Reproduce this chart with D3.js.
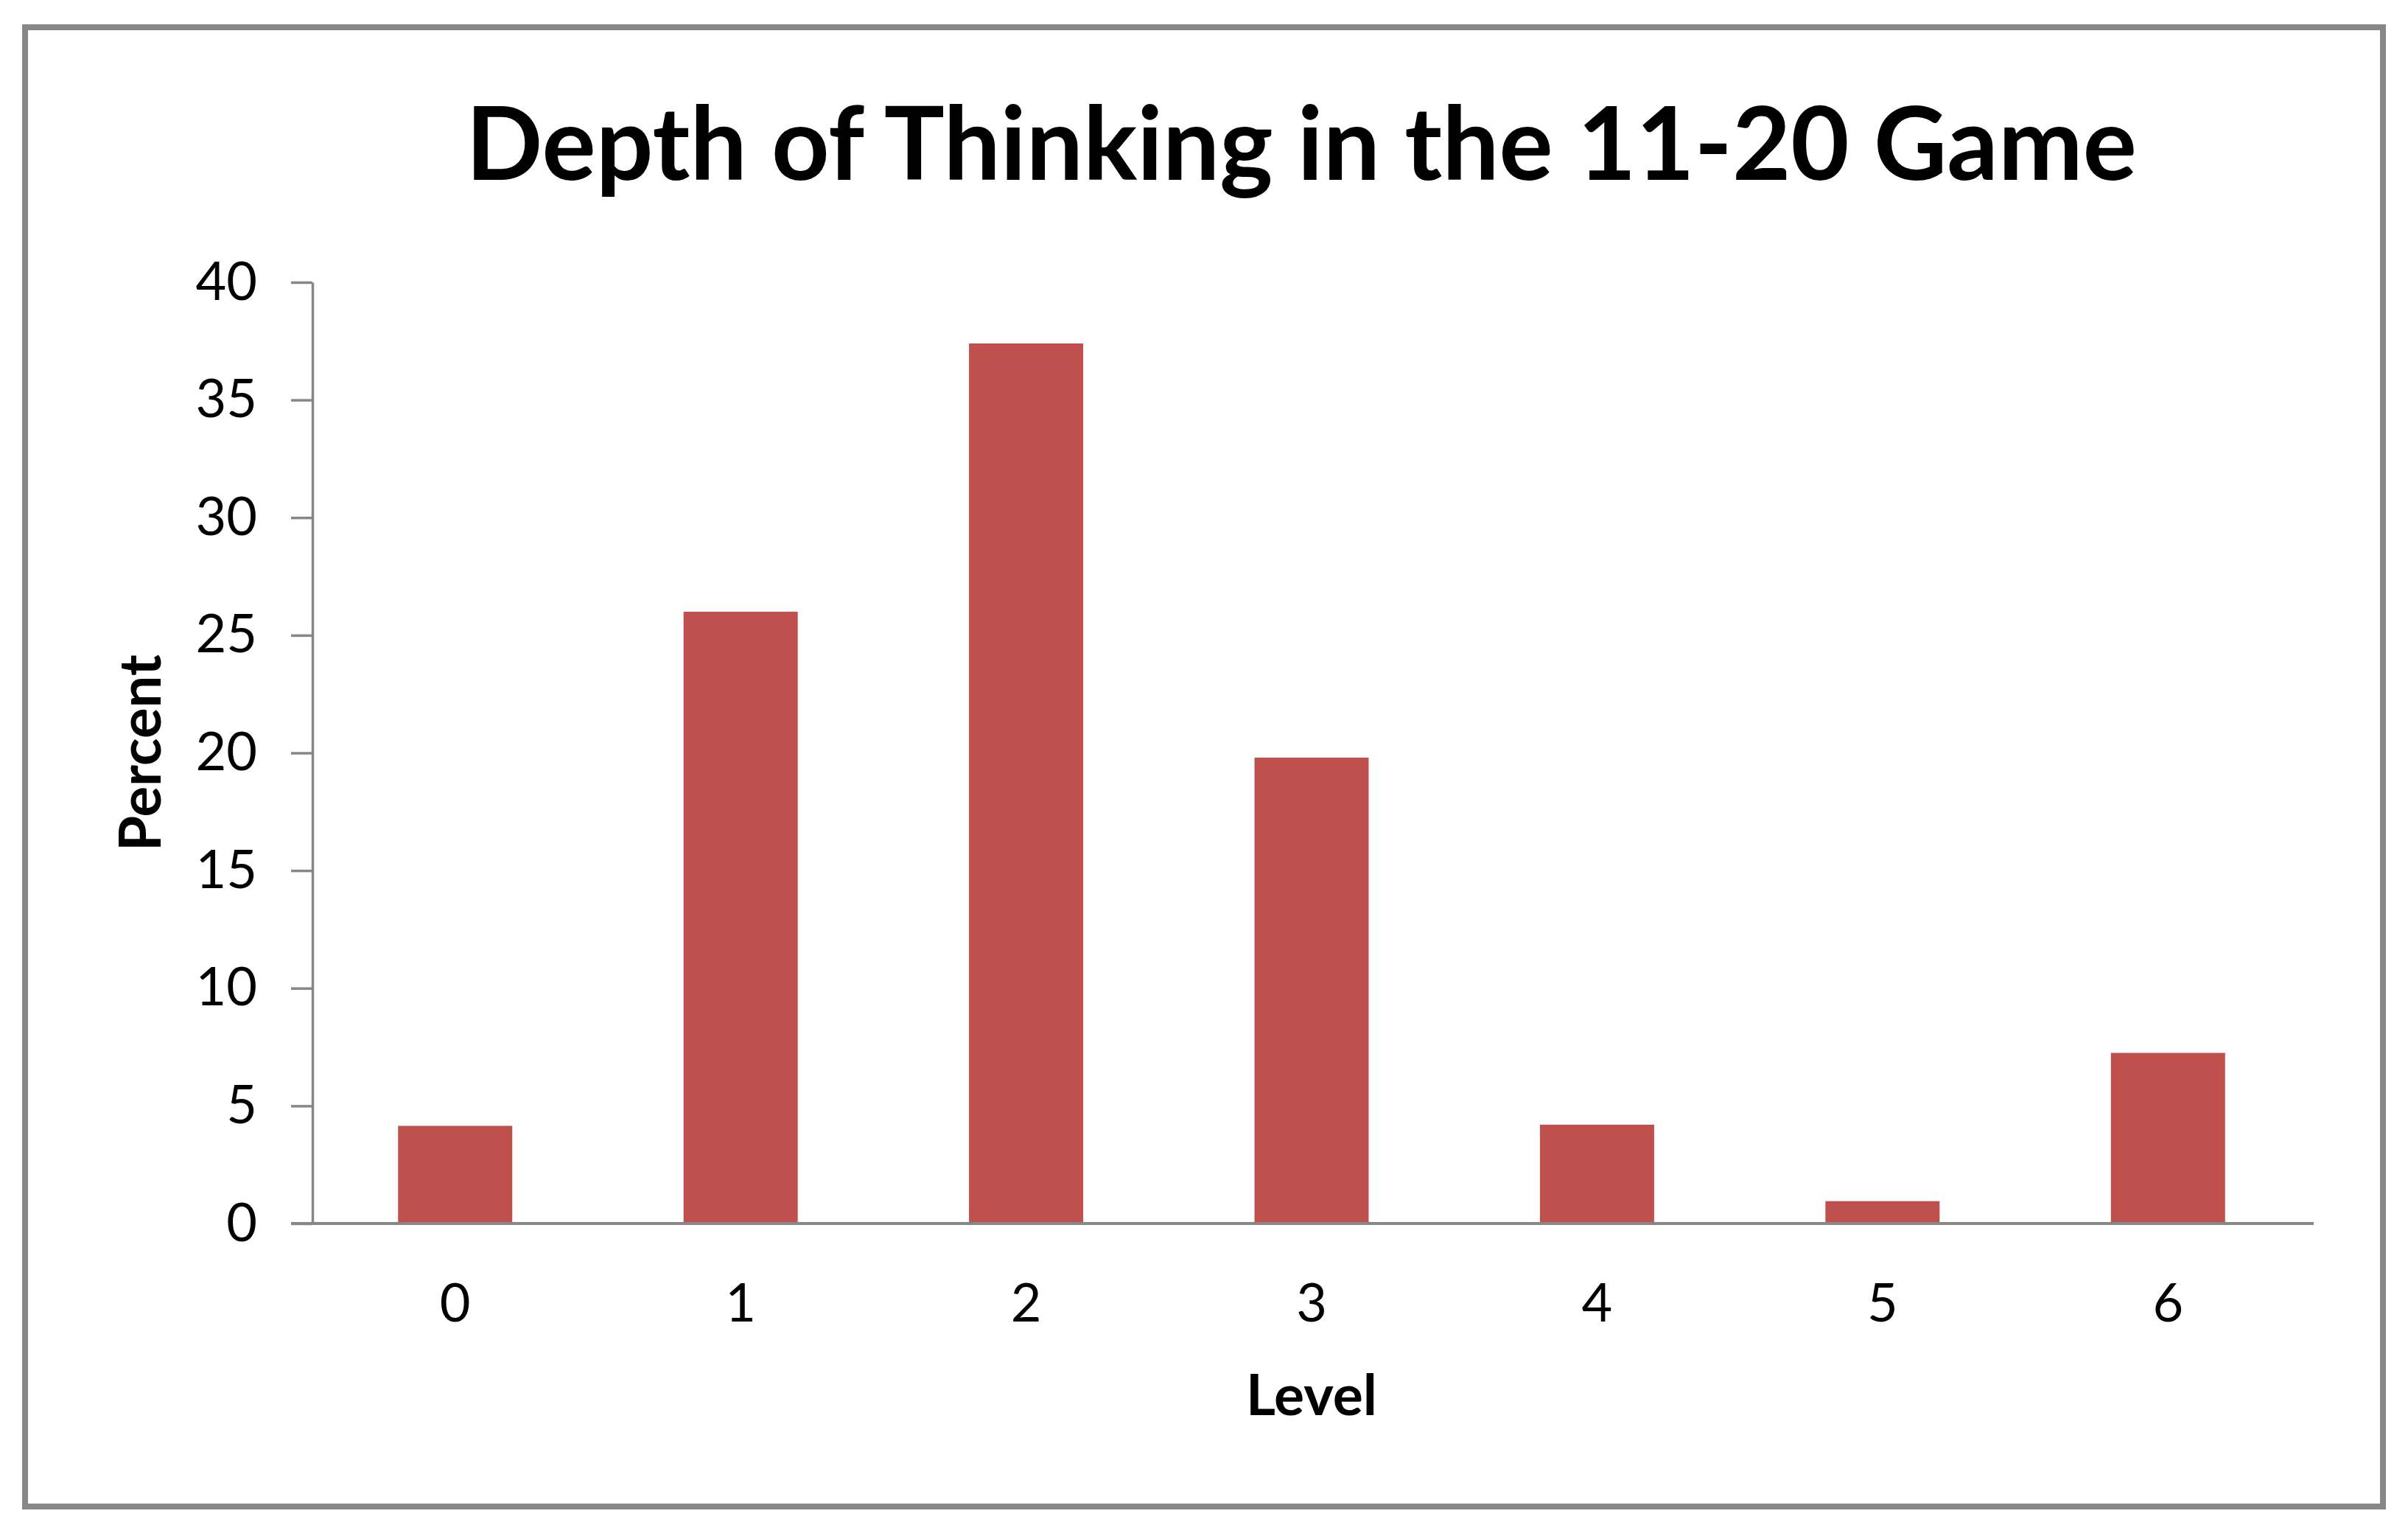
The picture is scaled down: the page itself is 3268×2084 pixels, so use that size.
<!DOCTYPE html>
<html>
<head>
<meta charset="utf-8">
<script src="https://cdn.jsdelivr.net/npm/d3@7"></script>
<style>
  html, body { margin: 0; padding: 0; background: #fff; }
  svg { display: block; font-family: Lato, "Open Sans", sans-serif; }
</style>
</head>
<body>
<svg id="chart"></svg>
<script>
// data
let levels = ["0", "1", "2", "3", "4", "5", "6"];
let percents = [4.15, 26.0, 37.4, 19.8, 4.2, 0.95, 7.25];
let yTicks = [0, 5, 10, 15, 20, 25, 30, 35, 40];

let width = 3268,
    height = 2084;

let axisColor = "#878787",
    barColor = "#C0504D";

let svg = d3.select("#chart")
  .attr("width", width)
  .attr("height", height);

// outer frame
svg.append("rect")
  .attr("x", 34)
  .attr("y", 37)
  .attr("width", 3200)
  .attr("height", 2007)
  .attr("fill", "#fff")
  .attr("stroke", axisColor)
  .attr("stroke-width", 8);

let x = d3.scaleBand()
  .domain(levels)
  .range([424, 3136])
  .paddingInner(0.6)
  .paddingOuter(0.3);

let y = d3.scaleLinear()
  .domain([0, 40])
  .range([1660, 383]);

// bars
svg.append("g")
  .attr("class", "bars")
  .selectAll("rect")
  .data(percents)
  .enter()
  .append("rect")
    .attr("x", (d, i) => x(levels[i]))
    .attr("y", d => y(d))
    .attr("width", x.bandwidth())
    .attr("height", d => y(0) - y(d))
    .attr("fill", barColor);

// y axis
let yAxis = svg.append("g")
  .attr("transform", `translate(${x.range()[0]},0)`)
  .call(d3.axisLeft(y)
    .tickValues(yTicks)
    .tickSize(29)
    .tickSizeOuter(0)
    .tickPadding(46));
yAxis.select(".domain").attr("stroke", axisColor).attr("stroke-width", 3.5);
yAxis.selectAll(".tick line").attr("stroke", axisColor).attr("stroke-width", 3.5);
yAxis.selectAll(".tick text")
  .attr("fill", "#000")
  .style("font-size", "72px")
  .style("font-family", "Lato, sans-serif");

// x axis
let xAxis = svg.append("g")
  .attr("transform", `translate(0,${y(0)})`)
  .call(d3.axisBottom(x)
    .tickSize(0)
    .tickSizeOuter(0)
    .tickPadding(82));
xAxis.select(".domain")
  .attr("d", `M395,0H${x.range()[1] + 4}`)
  .attr("stroke", axisColor)
  .attr("stroke-width", 4);
xAxis.selectAll(".tick text")
  .attr("fill", "#000")
  .style("font-size", "72px")
  .style("font-family", "Lato, sans-serif");

// title
svg.append("text")
  .attr("x", 1766)
  .attr("y", 244)
  .attr("text-anchor", "middle")
  .style("font-size", "137px")
  .style("font-weight", "bold")
  .text("Depth of Thinking in the 11-20 Game");

// axis titles
svg.append("text")
  .attr("x", (x.range()[0] + x.range()[1]) / 2)
  .attr("y", 1920)
  .attr("text-anchor", "middle")
  .style("font-size", "77px")
  .style("font-weight", "bold")
  .text("Level");

svg.append("text")
  .attr("transform", `translate(218,${(y(0) + y(40)) / 2}) rotate(-90)`)
  .attr("text-anchor", "middle")
  .style("font-size", "78px")
  .style("font-weight", "bold")
  .text("Percent");
</script>
</body>
</html>
